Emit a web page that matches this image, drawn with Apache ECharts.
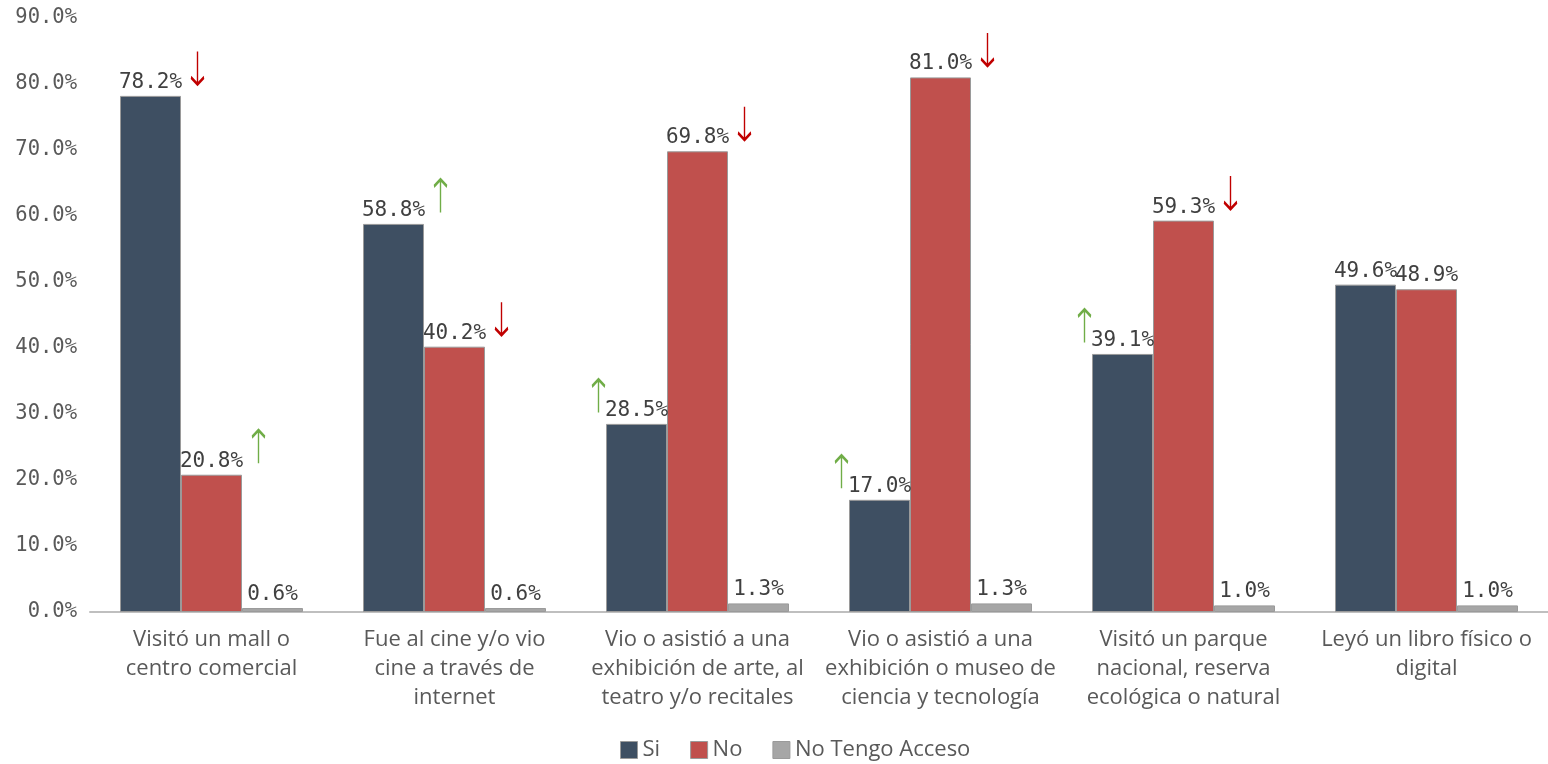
<!DOCTYPE html>
<html><head><meta charset="utf-8">
<script src="https://cdn.jsdelivr.net/npm/echarts@6/dist/echarts.min.js"></script>
<style>html,body{margin:0;padding:0;background:#fff}#c{width:1548px;height:764px}</style>
</head><body><div id="c"></div>
<script>
const categories = [
  'Visitó un mall o\ncentro comercial',
  'Fue al cine y/o vio\ncine a través de\ninternet',
  'Vio o asistió a una\nexhibición de arte, al\nteatro y/o recitales',
  'Vio o asistió a una\nexhibición o museo de\nciencia y tecnología',
  'Visitó un parque\nnacional, reserva\necológica o natural',
  'Leyó un libro físico o\ndigital'
];
const seriesNames = ['Si', 'No', 'No Tengo Acceso'];
const si = [78.2, 58.8, 28.5, 17.0, 39.1, 49.6];
const no = [20.8, 40.2, 69.8, 81.0, 59.3, 48.9];
const noAcceso = [0.6, 0.6, 1.3, 1.3, 1.0, 1.0];
const trendSi = ['down', 'up', 'up', 'up', 'up', null];
const trendNo = ['up', 'down', 'down', 'down', 'down', null];
const yMin = 0, yMax = 90, yStep = 10;

// arrow placement (style)
const siArrowSide = ['right', 'right', 'left', 'left', 'left', null];
const noArrowSide = ['right', 'right', 'right', 'right', 'right', null];

const UP = 'path://M6,33 L6,0 M0,7 L6,0 L12,7';
const DOWN = 'path://M6,0 L6,33 M0,26 L6,33 L12,26';
const RED = '#c00000', GREEN = '#70ad47';

function arrows(values, trends, sides) {
  const out = [];
  values.forEach((v, i) => {
    const t = trends[i];
    if (!t) return;
    const dx = sides[i] === 'left' ? -38 : 47;
    const c = t === 'up' ? GREEN : RED;
    out.push({
      coord: [i, v],
      symbol: t === 'up' ? UP : DOWN,
      symbolSize: [13, 33],
      symbolOffset: [dx, -28],
      itemStyle: { color: 'transparent', borderColor: c, borderWidth: 2.2 },
      label: { show: false }
    });
  });
  return out;
}

const labelStyle = {
  show: true, position: 'top', distance: 3,
  fontFamily: 'DejaVu Sans Mono', fontSize: 21, color: '#404040',
  formatter: p => p.value.toFixed(1) + '%'
};

const colors = ['#3e4f62', '#c0504d', '#a6a6a6'];
const mkSeries = (name, data, idx, mp) => ({
  name, type: 'bar', data, barWidth: 61, barGap: '0%',
  itemStyle: { color: colors[idx], borderColor: '#9a9a9a', borderWidth: 1 },
  label: labelStyle,
  emphasis: { disabled: true },
  markPoint: mp ? { data: mp, silent: true, animation: false } : undefined
});

const chart = echarts.init(document.getElementById('c'));
chart.setOption({
  animation: false,
  color: colors,
  grid: { left: 90, right: 0, top: 18, bottom: 152 },
  legend: {
    data: seriesNames, left: 620, top: 737, padding: 0, icon: 'rect',
    itemWidth: 17, itemHeight: 17, itemGap: 30,
    itemStyle: { borderColor: '#9a9a9a', borderWidth: 1 },
    textStyle: { fontFamily: 'Open Sans', fontSize: 22, lineHeight: 26, color: '#595959' }
  },
  xAxis: {
    type: 'category', data: categories,
    axisLine: { lineStyle: { color: '#bfbfbf', width: 2 } },
    axisTick: { show: false },
    axisLabel: { interval: 0, margin: 13, fontFamily: 'Open Sans', fontSize: 22, lineHeight: 29, color: '#595959' }
  },
  yAxis: {
    type: 'value', min: yMin, max: yMax, interval: yStep,
    splitLine: { show: false }, axisLine: { show: false }, axisTick: { show: false },
    axisLabel: { margin: 13, fontFamily: 'DejaVu Sans Mono', fontSize: 20.5, color: '#595959', formatter: v => v.toFixed(1) + '%' }
  },
  series: [
    mkSeries(seriesNames[0], si, 0, arrows(si, trendSi, siArrowSide)),
    mkSeries(seriesNames[1], no, 1, arrows(no, trendNo, noArrowSide)),
    mkSeries(seriesNames[2], noAcceso, 2, null)
  ]
});
</script></body></html>
